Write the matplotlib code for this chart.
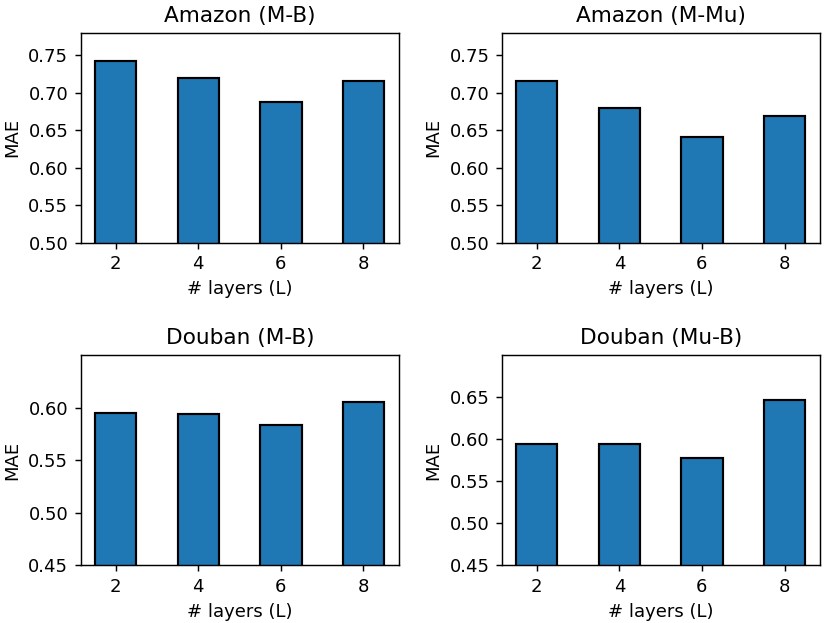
import numpy as np
import matplotlib.pyplot as plt

# valori
layers = ["2", "4", "6", "8"]
titoli = ["Amazon (M-B)", "Amazon (M-Mu)", "Douban (M-B)", "Douban (Mu-B)"]
mae_amazon_mb = [0.742, 0.720, 0.688, 0.715]
mae_amazon_mmu = [0.716, 0.679, 0.641, 0.669]
mae_douban_mb = [0.595, 0.594, 0.583, 0.605]
mae_douban_mub = [0.594, 0.594, 0.578, 0.647]
ylims = [(0.50, 0.78), (0.50, 0.78), (0.45, 0.65), (0.45, 0.70)]
yticks = [np.arange(0.50, 0.751, 0.05), np.arange(0.50, 0.751, 0.05),
          np.arange(0.45, 0.601, 0.05), np.arange(0.45, 0.651, 0.05)]

dati = [mae_amazon_mb, mae_amazon_mmu, mae_douban_mb, mae_douban_mub]

fig, axs = plt.subplots(2, 2, figsize=(830 / 130, 623 / 130), dpi=130)
fig.subplots_adjust(left=0.0976, right=0.988, top=0.9475, bottom=0.0931,
                    wspace=0.324, hspace=0.536)

x = np.arange(len(layers))
for i, ax in enumerate(axs.flat):
    ax.bar(x, dati[i], width=0.5, color="#1f77b4", edgecolor="black", linewidth=1.2)
    ax.set_xticks(x)
    ax.set_xticklabels(layers)
    ax.set_xlim(-0.42, 3.43)
    ax.set_ylim(*ylims[i])
    ax.set_yticks(yticks[i])
    ax.set_yticklabels([f"{v:.2f}" for v in yticks[i]])
    ax.set_xlabel("# layers (L)")
    ax.set_ylabel("MAE")
    ax.set_title(titoli[i], fontsize=12)

fig.savefig("out.png", dpi=130)
